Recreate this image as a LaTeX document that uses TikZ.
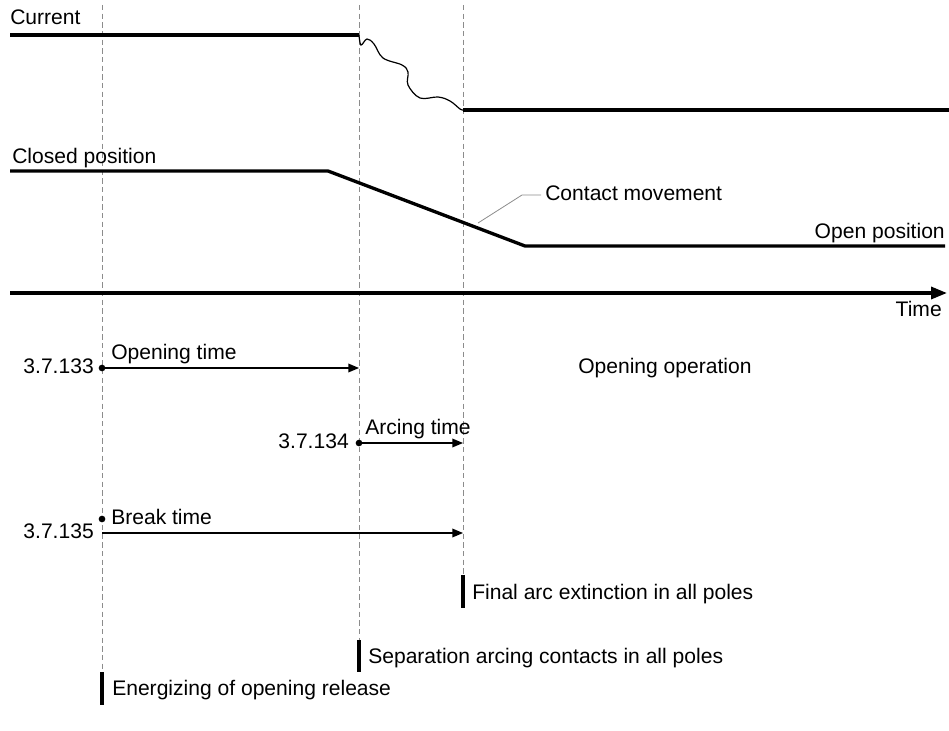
\documentclass[tikz,border=0pt]{standalone}
\usepackage{fontspec}
\setmainfont{Liberation Sans}
\usetikzlibrary{arrows.meta, positioning}
\tikzset{
  lbl/.style={inner sep=0pt,text height=11pt,text depth=3pt,font=\fontsize{15.8}{18}\selectfont},
  tmark/.style={draw=gray!90,dash pattern=on 4pt off 2.5pt,line width=0.6pt},
  sigline/.style={line width=2.5pt,black},
  evbar/.style={line width=2.5pt,black},
  spanarr/.style={-{Triangle[length=8pt,width=6.5pt]},line width=1pt},
  timeaxis/.style={-{Triangle[length=12pt,width=9pt]},line width=2.5pt},
  leader/.style={gray!90,line width=0.6pt},
  startdot/.style={circle,fill=black,inner sep=0pt,minimum size=5pt},
}

\begin{document}
\begin{tikzpicture}[x=0.75pt,y=-0.75pt]
  \useasboundingbox (0,0) rectangle (949,731);
  % event instants
  \coordinate (tE) at (102,5);
  \coordinate (tS) at (359,5);
  \coordinate (tF) at (463,5);
  \coordinate (eE1) at (102,672); \coordinate (eE2) at (102,705);
  \coordinate (eS1) at (359,640); \coordinate (eS2) at (359,672);
  \coordinate (eF1) at (463,575); \coordinate (eF2) at (463,608);
  \draw[tmark] (tE) -- (eE1);
  \draw[tmark] (tS) -- (eS1);
  \draw[tmark] (tF) -- (eF1);

  % current trace
  \node[lbl,anchor=west] (lCurrent) at (10,19) {Current};
  \coordinate (c0) at (10,35);
  \coordinate (c1) at (359,35);
  \coordinate (c2) at (463,110);
  \coordinate (c3) at (949,110);
  \draw[sigline] (c0) -- (c1);
  \draw[line width=0.9pt] plot[smooth,tension=0.6] coordinates {(359,35) (361,45) (367,39) (374,44) (383,58) (402,65) (408,72) (408,85) (420,98) (438,97) (450,101) (460,109) (463,110)};
  \draw[sigline] (c2) -- (c3);

  % contact position trace
  \node[lbl,anchor=west] (lClosed) at (12,158) {Closed position};
  \coordinate (p0) at (10,171);
  \coordinate (p1) at (328,171);
  \coordinate (p2) at (525,246);
  \coordinate (p3) at (945,246);
  \draw[sigline] (p0) -- (p1) -- (p2) -- (p3);
  \node[lbl,anchor=east] (lOpen) at (945,233) {Open position};
  \node[lbl,anchor=west] (lMove) at (545,195) {Contact movement};
  \coordinate (mv) at (478,223);
  \coordinate (mvk) at (522,195);
  \draw[leader] (mv) -- (mvk) -- ([xshift=-3pt]lMove.west);

  % time axis
  \coordinate (ax0) at (10,293);
  \coordinate (ax1) at (947,293);
  \draw[timeaxis] (ax0) -- (ax1);
  \node[lbl,anchor=east] (lTime) at (942,311) {Time};

  % intervals
  \node[startdot] (dOpen) at (102,368) {};
  \coordinate (aOpen) at (359,368);
  \draw[spanarr] (dOpen.center) -- (aOpen);
  \node[lbl,anchor=east] (n133) at (94,368) {3.7.133};
  \node[lbl,anchor=west] (lOpening) at (111,354) {Opening time};
  \node[lbl,anchor=west] (lOperation) at (578,368) {Opening operation};

  \node[startdot] (dArc) at (359,443) {};
  \coordinate (aArc) at (463,443);
  \draw[spanarr] (dArc.center) -- (aArc);
  \node[lbl,anchor=east] (n134) at (349,443) {3.7.134};
  \node[lbl,anchor=west] (lArcing) at (365,429) {Arcing time};

  \node[startdot] (dBreak) at (102,519) {};
  \coordinate (bBreak) at (102,533);
  \coordinate (aBreak) at (463,533);
  \draw[spanarr] (bBreak) -- (aBreak);
  \node[lbl,anchor=east] (n135) at (94,533) {3.7.135};
  \node[lbl,anchor=west] (lBreak) at (111,519) {Break time};

  % events
  \draw[evbar] (eF1) -- (eF2);
  \node[lbl,anchor=west] (lFinal) at (472,594) {Final arc extinction in all poles};
  \draw[evbar] (eS1) -- (eS2);
  \node[lbl,anchor=west] (lSep) at (368,658) {Separation arcing contacts in all poles};
  \draw[evbar] (eE1) -- (eE2);
  \node[lbl,anchor=west] (lEnerg) at (112,690) {Energizing of opening release};
\end{tikzpicture}
\end{document}
